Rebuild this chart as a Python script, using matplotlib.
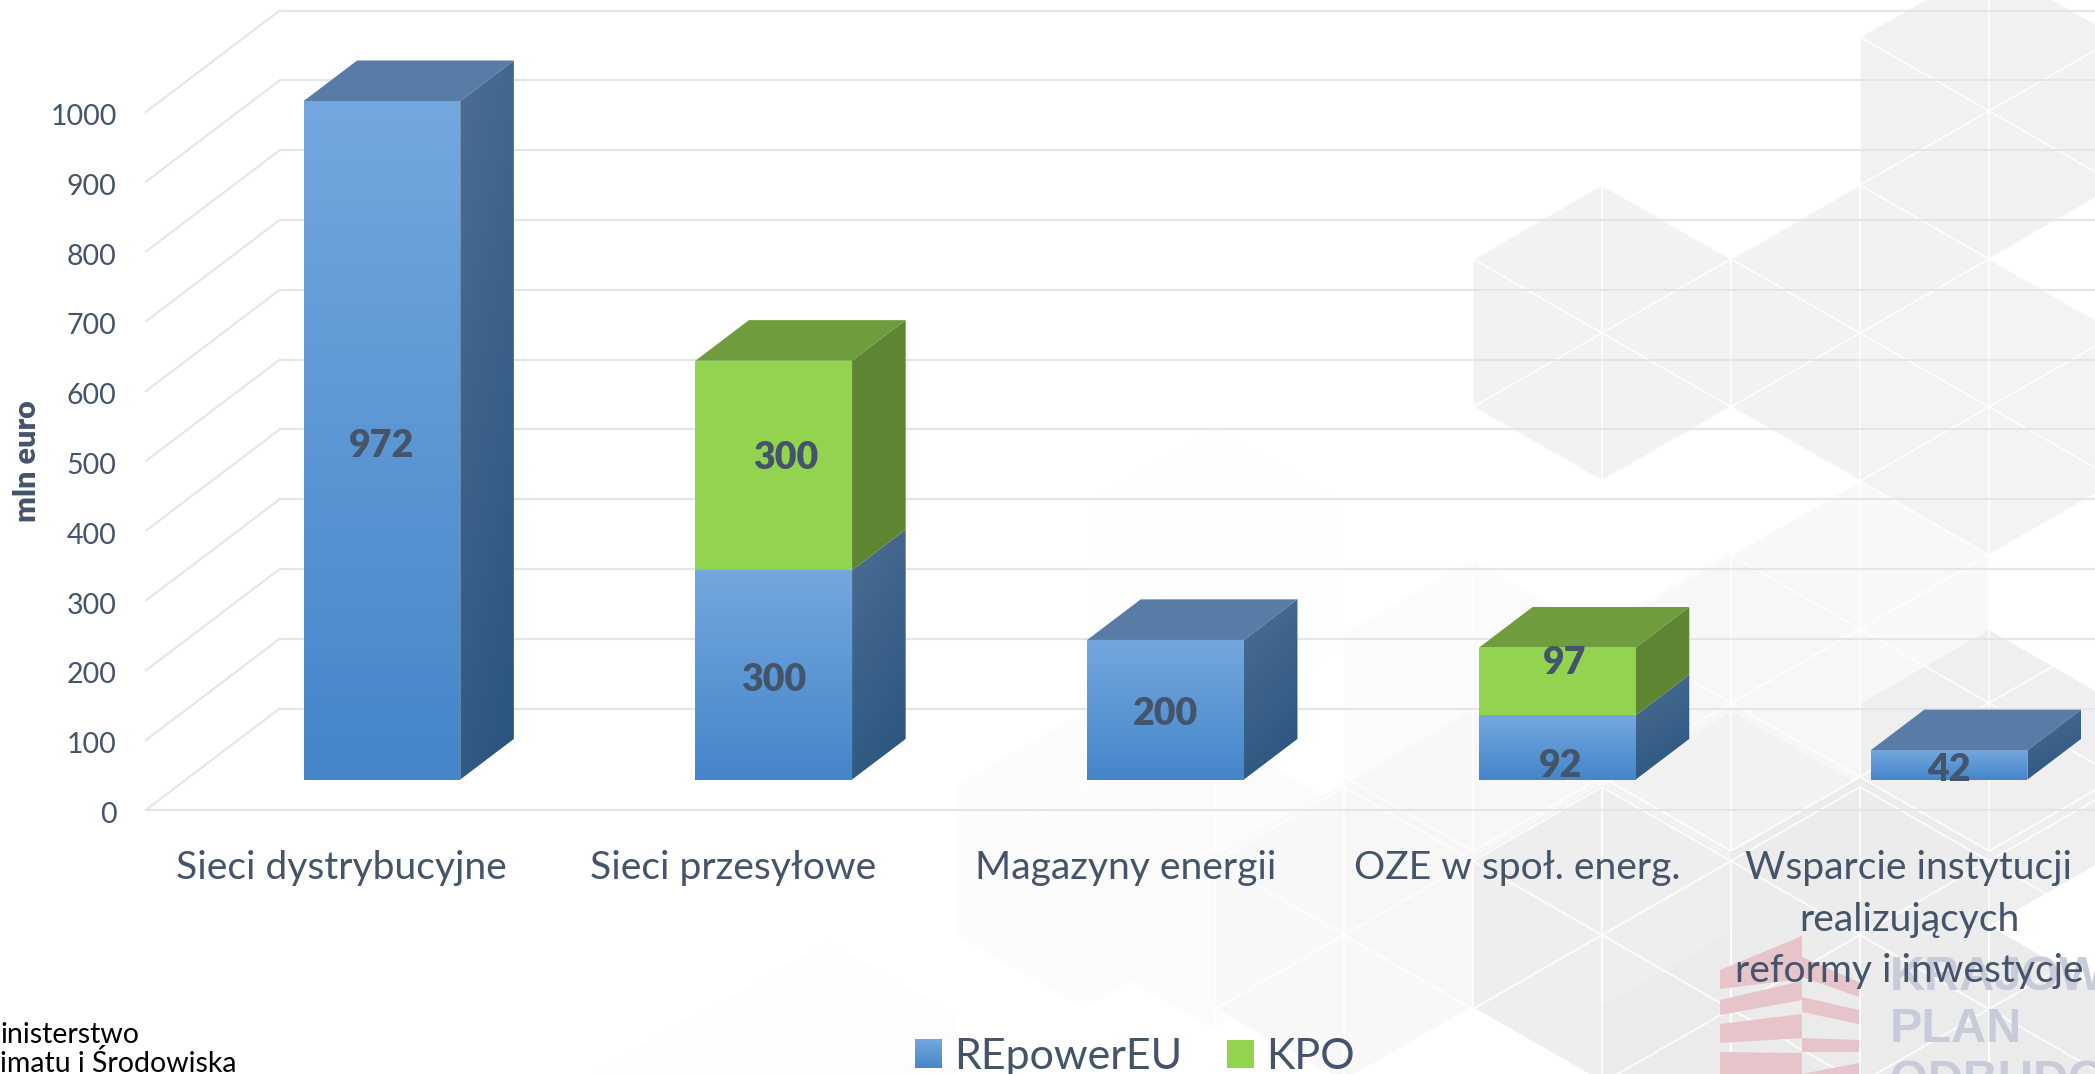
import numpy as np
import matplotlib
matplotlib.use("Agg")
import matplotlib.pyplot as plt
from matplotlib.patches import Polygon, Rectangle, Patch
from matplotlib.legend_handler import HandlerBase
from matplotlib.colors import to_rgb
from matplotlib.transforms import ScaledTranslation

plt.rcParams['font.family'] = ['Lato', 'DejaVu Sans']

# ---------- data ----------
categories = ['Sieci dystrybucyjne', 'Sieci przesyłowe', 'Magazyny energii', 'OZE w społ. energ.',
              'Wsparcie instytucji\nrealizujących\nreformy i inwestycje']
repower = [972, 300, 200, 92, 42]
kpo = [0, 300, 0, 97, 0]
y_ticks = list(range(0, 1001, 100))
series_names = ['REpowerEU', 'KPO']
y_title = 'mln euro'

# ---------- layout ----------
W, H = 2095, 1074
DPI = 100
PX_X = 391.8          # px per category
PX_V = 0.698          # px per value unit
X0_PX, V0_PX = 341.7, 810.0
DX = 134 / PX_X       # depth shift in category units
DV = 101.5 / PX_V     # depth shift in value units
BAR_W = 0.4
D0, D1 = 0.3, 0.7
XLEFT = -0.5
INK = '#44546a'
GRID = '#e2e5ec'

# offsets (px) of value labels from the middle of their segment front
rep_off = [(0, 6), (0, 5), (0, 4), (3, 19), (0, 5)]
kpo_off = [(0, 0), (12, -7), (0, 0), (7, -18), (0, 0)]

fig = plt.figure(figsize=(W / DPI, H / DPI), dpi=DPI, facecolor='white')

# ---------- watermark background, in pixels ----------
bg = fig.add_axes([0, 0, 1, 1], zorder=0)
bg.set_xlim(0, W)
bg.set_ylim(H, 0)
bg.axis('off')
SX, SY = 129.0, 74.0


def hexagon(cx, cy, color):
    pts = [(cx, cy - 2 * SY), (cx + SX, cy - SY), (cx + SX, cy + SY), (cx, cy + 2 * SY),
           (cx - SX, cy + SY), (cx - SX, cy - SY)]
    bg.add_patch(Polygon(pts, closed=True, fc=color, ec='none', zorder=1))


hexes = [
    (828, 1090, '#fdfdfd'), (700, 1160, '#fdfdfd'), (1216, 575, '#fefefe'), (1084, 860, '#fcfcfc'),
    (1212, 880, '#fbfbfb'), (1472, 708, '#fbfbfb'), (1860, 630, '#f8f8f8'),
    (1342, 933, '#f8f8f8'), (1472, 860, '#f7f7f7'), (1732, 700, '#f7f7f7'),
    (1602, 333, '#f2f2f3'), (1860, 333, '#f2f2f3'), (1989, 111, '#f1f1f1'),
    (1989, 407, '#f3f3f3'), (1732, 860, '#f2f2f2'), (1602, 933, '#eeeeee'),
    (1989, 778, '#efefef'), (1860, 925, '#ececec'), (1989, 1074, '#ebebeb'), (1732, 1080, '#ebebeb'),
]
for h in hexes:
    hexagon(*h)

# lattice lines
segs = []
for (y0, ymin, ymax) in [(333.0, -80, 790), (787.0, 787, 1200)]:
    for n in range(-8, 5):
        for m in range(-7, 10):
            if (n + m) % 2:
                continue
            x, y = 1602 + SX * n, y0 + SY * m
            if y < ymin or y > ymax:
                continue
            if y + 2 * SY <= ymax + 74:
                segs.append(((x, y), (x, y + 2 * SY)))
            segs.append(((x, y), (x + SX, y + SY)))
            segs.append(((x, y), (x - SX, y + SY)))
for (a, b) in segs:
    bg.plot([a[0], b[0]], [a[1], b[1]], color='white', lw=1.4, alpha=0.85, zorder=2,
            solid_capstyle='butt')

# programme logo
pink = '#e6c4c9'
logo = [
    [(1720, 970), (1802, 936), (1802, 979), (1720, 989)],
    [(1720, 1000), (1802, 981), (1802, 1000), (1720, 1015)],
    [(1720, 1024), (1802, 1014), (1802, 1038), (1720, 1043)],
    [(1720, 1052), (1802, 1053), (1802, 1074), (1720, 1074)],
    [(1802, 957), (1859, 982), (1859, 997), (1802, 977)],
    [(1802, 997), (1859, 1010), (1859, 1024), (1802, 1012)],
    [(1802, 1038), (1859, 1040), (1859, 1052), (1802, 1052)],
    [(1802, 1074), (1859, 1063), (1859, 1074), (1802, 1074)],
]
for p in logo:
    bg.add_patch(Polygon(p, closed=True, fc=pink, ec='none', zorder=3))
for txt, yb in [('KRAJOWY', 990), ('PLAN', 1042), ('ODBUDOWY', 1094)]:
    bg.text(1890, yb, txt, family='Liberation Sans', weight='bold', fontsize=35, color='#c8ccd9',
            ha='left', va='baseline', zorder=3)
bg.text(0, 1043, 'inisterstwo', fontsize=20.5, color='black', ha='left', va='baseline', zorder=3)
bg.text(0, 1072, 'imatu i Środowiska', fontsize=20.5, color='black', ha='left', va='baseline', zorder=3)

# ---------- chart axes ----------
ax = fig.add_axes([0, 0, 1, 1], zorder=1)
ax.patch.set_alpha(0)
xlim = ((0 - X0_PX) / PX_X, (W - X0_PX) / PX_X)
ylim = ((V0_PX - H) / PX_V, V0_PX / PX_V)


def gradient(x0, x1, y0, y1, c_top, c_bot, clip, tilt=0.0, z=3):
    t = np.linspace(0, 1, 128)[:, None]
    u = np.linspace(0, 1, 32)[None, :]
    f = np.clip(t * (1 - tilt) + u * tilt, 0, 1)[..., None]
    img = np.array(to_rgb(c_top))[None, None, :] * (1 - f) + np.array(to_rgb(c_bot))[None, None, :] * f
    im = ax.imshow(img, extent=(x0, x1, y0, y1), origin='upper', aspect='auto',
                   interpolation='bilinear', zorder=z)
    poly = Polygon(clip, closed=True, transform=ax.transData, fc='none', ec='none')
    im.set_clip_path(poly)


# gridlines: back wall, left wall, floor
for v in y_ticks:
    ax.plot([XLEFT, XLEFT + DX], [v, v + DV], color=GRID, lw=1.5, zorder=1, solid_capstyle='round')
    ax.plot([XLEFT + DX, xlim[1]], [v + DV, v + DV], color=GRID, lw=1.5, zorder=1)
ax.plot([XLEFT, xlim[1]], [0, 0], color=GRID, lw=1.5, zorder=1)


def bar3d(i, bottom, height, front, side, top=None):
    xf0 = i - BAR_W / 2 + DX * D0
    xf1 = xf0 + BAR_W
    ddx, ddv = DX * (D1 - D0), DV * (D1 - D0)
    v0 = bottom + DV * D0
    v1 = v0 + height
    # side
    sq = [(xf1, v0), (xf1 + ddx, v0 + ddv), (xf1 + ddx, v1 + ddv), (xf1, v1)]
    if isinstance(side, tuple):
        gradient(xf1, xf1 + ddx, v0, v1 + ddv, side[0], side[1], sq, tilt=0.25)
    else:
        ax.add_patch(Polygon(sq, closed=True, fc=side, ec='none', zorder=3))
    # top
    if top is not None:
        ax.add_patch(Polygon([(xf0, v1), (xf1, v1), (xf1 + ddx, v1 + ddv), (xf0 + ddx, v1 + ddv)],
                             closed=True, fc=top, ec='none', zorder=4))
    # front
    fq = [(xf0, v0), (xf1, v0), (xf1, v1), (xf0, v1)]
    if isinstance(front, tuple):
        gradient(xf0, xf1, v0, v1, front[0], front[1], fq, z=4)
    else:
        ax.add_patch(Polygon(fq, closed=True, fc=front, ec='none', zorder=4))
    return (xf0 + xf1) / 2, (v0 + v1) / 2


BLUE_F = ('#74a7de', '#4486c9')
BLUE_S = ('#4c6d93', '#28547e')
BLUE_T = '#587ca6'
GREEN_F = '#92d350'
GREEN_S = '#5e8532'
GREEN_T = '#6f9c3d'


def value_label(xc, vc, val, off):
    ax.annotate(str(val), (xc, vc), xytext=(off[0] * 0.72, -off[1] * 0.72), textcoords='offset points',
                ha='center', va='center', fontsize=27, fontweight='heavy', color=INK, zorder=6)


for i in range(len(categories)):
    has_k = kpo[i] > 0
    c1 = bar3d(i, 0, repower[i], BLUE_F, BLUE_S, None if has_k else BLUE_T)
    labels = [(c1, repower[i], rep_off[i])]
    if has_k:
        c2 = bar3d(i, repower[i], kpo[i], GREEN_F, GREEN_S, GREEN_T)
        labels.append((c2, kpo[i], kpo_off[i]))
    for c, val, off in labels:
        value_label(c[0], c[1], val, off)

ax.set_xlim(*xlim)
ax.set_ylim(*ylim)
for s in ax.spines.values():
    s.set_visible(False)
ax.spines['left'].set_position(('data', XLEFT))
ax.spines['bottom'].set_position(('data', 0))
ax.set_yticks(y_ticks)
ax.set_xticks(range(len(categories)))
ax.set_xticklabels(categories, linespacing=1.53)
ax.tick_params(axis='y', length=0, pad=21, labelsize=20.5, labelcolor=INK)
ax.tick_params(axis='x', length=0, pad=29, labelsize=28.1, labelcolor=INK)
for lab in ax.get_yticklabels():
    lab.set_transform(lab.get_transform() + ScaledTranslation(0, -2.5 / DPI, fig.dpi_scale_trans))
ax.set_ylabel(y_title, fontsize=22, fontweight='heavy', color=INK)
ax.yaxis.set_label_coords(41 / W, 1 - 461 / H)


class GradHandler(HandlerBase):
    def create_artists(self, legend, orig, xd, yd, width, height, fontsize, trans):
        arts = []
        if orig.get_label() == series_names[0]:
            n = 24
            a, b = np.array(to_rgb(BLUE_F[0])), np.array(to_rgb(BLUE_F[1]))
            for k in range(n):
                f = (k + .5) / n
                arts.append(Rectangle((-xd, -yd + height * (1 - (k + 1) / n)), width, height / n * 1.05,
                                      fc=tuple(a * (1 - f) + b * f), ec='none', transform=trans))
        else:
            arts.append(Rectangle((-xd, -yd), width, height, fc=GREEN_F, ec='none', transform=trans))
        return arts


hnd = [Patch(label=series_names[0]), Patch(label=series_names[1])]
leg = ax.legend(handles=hnd, handler_map={Patch: GradHandler()}, loc='lower left',
                bbox_to_anchor=(915 / W, 1 - 1076 / H), frameon=False, ncol=2, fontsize=31,
                labelcolor=INK, handlelength=0.63, handleheight=0.65, handletextpad=0.27,
                columnspacing=1.05, borderpad=0, borderaxespad=0)
leg.set_zorder(6)

fig.savefig('out.png', dpi=DPI, facecolor='white')
